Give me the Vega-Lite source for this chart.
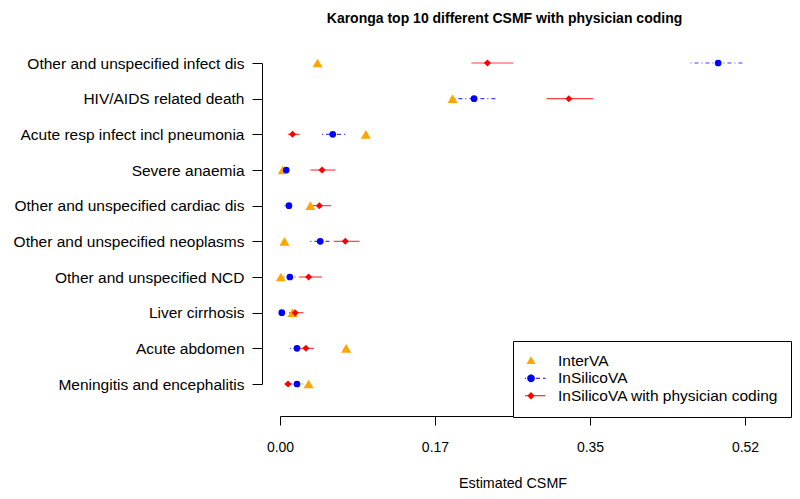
{
  "$schema": "https://vega.github.io/schema/vega-lite/v6.json",
  "autosize": "none",
  "width": 465,
  "height": 321,
  "padding": {"left": 280, "top": 63, "right": 55, "bottom": 115},
  "background": "white",
  "config": {
    "font": "Liberation Sans",
    "view": {"stroke": null},
    "axis": {"domainColor": "black", "tickColor": "black", "labelColor": "black", "titleColor": "black", "grid": false, "labelFont": "Liberation Sans", "titleFont": "Liberation Sans"}
  },
  "title": {
    "text": "Karonga top 10 different CSMF with physician coding",
    "fontSize": 14,
    "fontWeight": "bold",
    "color": "black",
    "anchor": "middle",
    "dx": -8,
    "offset": 30
  },
  "data": {
    "values": [
      {"cause": "Other and unspecified infect dis", "method": "InterVA", "est": 0.042},
      {"cause": "HIV/AIDS related death", "method": "InterVA", "est": 0.193},
      {"cause": "Acute resp infect incl pneumonia", "method": "InterVA", "est": 0.096},
      {"cause": "Severe anaemia", "method": "InterVA", "est": 0.003},
      {"cause": "Other and unspecified cardiac dis", "method": "InterVA", "est": 0.034},
      {"cause": "Other and unspecified neoplasms", "method": "InterVA", "est": 0.005},
      {"cause": "Other and unspecified NCD", "method": "InterVA", "est": 0.001},
      {"cause": "Liver cirrhosis", "method": "InterVA", "est": 0.014},
      {"cause": "Acute abdomen", "method": "InterVA", "est": 0.074},
      {"cause": "Meningitis and encephalitis", "method": "InterVA", "est": 0.032},
      {"cause": "Other and unspecified infect dis", "method": "InSilicoVA", "est": 0.490, "lo": 0.459, "hi": 0.518},
      {"cause": "HIV/AIDS related death", "method": "InSilicoVA", "est": 0.217, "lo": 0.195, "hi": 0.241},
      {"cause": "Acute resp infect incl pneumonia", "method": "InSilicoVA", "est": 0.059, "lo": 0.047, "hi": 0.073},
      {"cause": "Severe anaemia", "method": "InSilicoVA", "est": 0.007, "lo": 0.004, "hi": 0.009},
      {"cause": "Other and unspecified cardiac dis", "method": "InSilicoVA", "est": 0.010, "lo": 0.005, "hi": 0.013},
      {"cause": "Other and unspecified neoplasms", "method": "InSilicoVA", "est": 0.045, "lo": 0.034, "hi": 0.057},
      {"cause": "Other and unspecified NCD", "method": "InSilicoVA", "est": 0.011, "lo": 0.004, "hi": 0.020},
      {"cause": "Liver cirrhosis", "method": "InSilicoVA", "est": 0.002, "lo": 0.001, "hi": 0.004},
      {"cause": "Acute abdomen", "method": "InSilicoVA", "est": 0.019, "lo": 0.011, "hi": 0.022},
      {"cause": "Meningitis and encephalitis", "method": "InSilicoVA", "est": 0.019, "lo": 0.013, "hi": 0.026},
      {"cause": "Other and unspecified infect dis", "method": "InSilicoVA with physician coding", "est": 0.232, "lo": 0.214, "hi": 0.261},
      {"cause": "HIV/AIDS related death", "method": "InSilicoVA with physician coding", "est": 0.323, "lo": 0.298, "hi": 0.350},
      {"cause": "Acute resp infect incl pneumonia", "method": "InSilicoVA with physician coding", "est": 0.014, "lo": 0.009, "hi": 0.022},
      {"cause": "Severe anaemia", "method": "InSilicoVA with physician coding", "est": 0.047, "lo": 0.034, "hi": 0.062},
      {"cause": "Other and unspecified cardiac dis", "method": "InSilicoVA with physician coding", "est": 0.044, "lo": 0.035, "hi": 0.057},
      {"cause": "Other and unspecified neoplasms", "method": "InSilicoVA with physician coding", "est": 0.073, "lo": 0.060, "hi": 0.089},
      {"cause": "Other and unspecified NCD", "method": "InSilicoVA with physician coding", "est": 0.032, "lo": 0.021, "hi": 0.047},
      {"cause": "Liver cirrhosis", "method": "InSilicoVA with physician coding", "est": 0.017, "lo": 0.010, "hi": 0.026},
      {"cause": "Acute abdomen", "method": "InSilicoVA with physician coding", "est": 0.029, "lo": 0.022, "hi": 0.038},
      {"cause": "Meningitis and encephalitis", "method": "InSilicoVA with physician coding", "est": 0.009, "lo": 0.005, "hi": 0.013}
    ]
  },
  "encoding": {
    "y": {
      "field": "cause",
      "type": "nominal",
      "sort": null,
      "scale": {"type": "point", "padding": 0, "domain": ["Other and unspecified infect dis", "HIV/AIDS related death", "Acute resp infect incl pneumonia", "Severe anaemia", "Other and unspecified cardiac dis", "Other and unspecified neoplasms", "Other and unspecified NCD", "Liver cirrhosis", "Acute abdomen", "Meningitis and encephalitis"]},
      "axis": {"title": null, "offset": 18, "tickSize": 10, "labelPadding": 8, "labelFontSize": 15.5, "labelLimit": 400, "domainWidth": 1, "tickWidth": 1}
    }
  },
  "layer": [
    {
      "transform": [{"filter": "datum.method === 'InSilicoVA'"}],
      "mark": {"type": "rule", "color": "#0000FF", "strokeWidth": 1.2, "opacity": 0.75, "strokeDash": [1, 3, 4, 3], "clip": false},
      "encoding": {
        "x": {
          "field": "lo",
          "type": "quantitative",
          "scale": {"domain": [0, 0.52], "nice": false, "zero": false},
          "axis": {"title": "Estimated CSMF", "values": [0, 0.17333, 0.34667, 0.52], "format": ".2f", "offset": 32, "tickSize": 9, "labelPadding": 15, "labelFontSize": 14, "titleFontSize": 14.3, "titleFontWeight": "normal", "titlePadding": 22, "labelFlush": false}
        },
        "x2": {"field": "hi"}
      }
    },
    {
      "transform": [{"filter": "datum.method === 'InSilicoVA with physician coding'"}],
      "mark": {"type": "rule", "color": "#FF0000", "strokeWidth": 1.2, "opacity": 0.75, "clip": false},
      "encoding": {
        "x": {"field": "lo", "type": "quantitative"},
        "x2": {"field": "hi"}
      }
    },
    {
      "transform": [{"filter": "datum.method === 'InterVA'"}],
      "mark": {"type": "point", "filled": true, "color": "#FFA500", "opacity": 1, "shape": "triangle-up", "size": 100, "clip": false},
      "encoding": {
        "x": {"field": "est", "type": "quantitative"}
      }
    },
    {
      "transform": [{"filter": "datum.method === 'InSilicoVA'"}],
      "mark": {"type": "point", "filled": true, "color": "#0000FF", "opacity": 1, "shape": "circle", "size": 45, "clip": false},
      "encoding": {
        "x": {"field": "est", "type": "quantitative"}
      }
    },
    {
      "transform": [{"filter": "datum.method === 'InSilicoVA with physician coding'"}],
      "mark": {"type": "point", "filled": true, "color": "#FF0000", "opacity": 1, "shape": "diamond", "size": 50, "clip": false},
      "encoding": {
        "x": {"field": "est", "type": "quantitative"}
      }
    },
    {
      "mark": {"type": "point", "filled": true, "opacity": 0, "clip": false},
      "encoding": {
        "x": {"field": "est", "type": "quantitative"},
        "color": {
          "field": "method",
          "type": "nominal",
          "scale": {"domain": ["InterVA", "InSilicoVA", "InSilicoVA with physician coding"], "range": ["#FFA500", "#0000FF", "#FF0000"]},
          "legend": {
            "title": null,
            "orient": "none",
            "legendX": 233,
            "legendY": 278,
            "padding": 12,
            "strokeColor": "black",
            "fillColor": "white",
            "cornerRadius": 0,
            "symbolSize": 900,
            "symbolStrokeWidth": 0,
            "symbolOpacity": 1,
            "symbolOffset": -9,
            "clipHeight": 15.5,
            "rowPadding": 0.5,
            "labelOffset": 12,
            "labelFontSize": 15.5,
            "labelFont": "Liberation Sans",
            "labelColor": "black",
            "labelLimit": 400
          }
        },
        "shape": {
          "field": "method",
          "type": "nominal",
          "scale": {
            "domain": ["InterVA", "InSilicoVA", "InSilicoVA with physician coding"],
            "range": [
              "M0,-0.3L0.3,0.22L-0.3,0.22Z",
              "M-0.97,-0.035L-0.8,-0.035L-0.8,0.035L-0.97,0.035Z M-0.6,-0.035L-0.33,-0.035L-0.33,0.035L-0.6,0.035Z M0.33,-0.035L0.6,-0.035L0.6,0.035L0.33,0.035Z M0.8,-0.035L0.97,-0.035L0.97,0.035L0.8,0.035Z M0.26,0L0.225,0.13L0.13,0.225L0,0.26L-0.13,0.225L-0.225,0.13L-0.26,0L-0.225,-0.13L-0.13,-0.225L0,-0.26L0.13,-0.225L0.225,-0.13Z",
              "M-0.97,-0.035L0.97,-0.035L0.97,0.035L-0.97,0.035Z M-0.25,0L0,-0.25L0.25,0L0,0.25Z"
            ]
          },
          "legend": {
            "title": null,
            "orient": "none",
            "legendX": 233,
            "legendY": 278,
            "padding": 12,
            "strokeColor": "black",
            "fillColor": "white",
            "cornerRadius": 0,
            "symbolSize": 900,
            "symbolStrokeWidth": 0,
            "symbolOpacity": 1,
            "symbolOffset": -9,
            "clipHeight": 15.5,
            "rowPadding": 0.5,
            "labelOffset": 12,
            "labelFontSize": 15.5,
            "labelFont": "Liberation Sans",
            "labelColor": "black",
            "labelLimit": 400
          }
        }
      }
    }
  ]
}
